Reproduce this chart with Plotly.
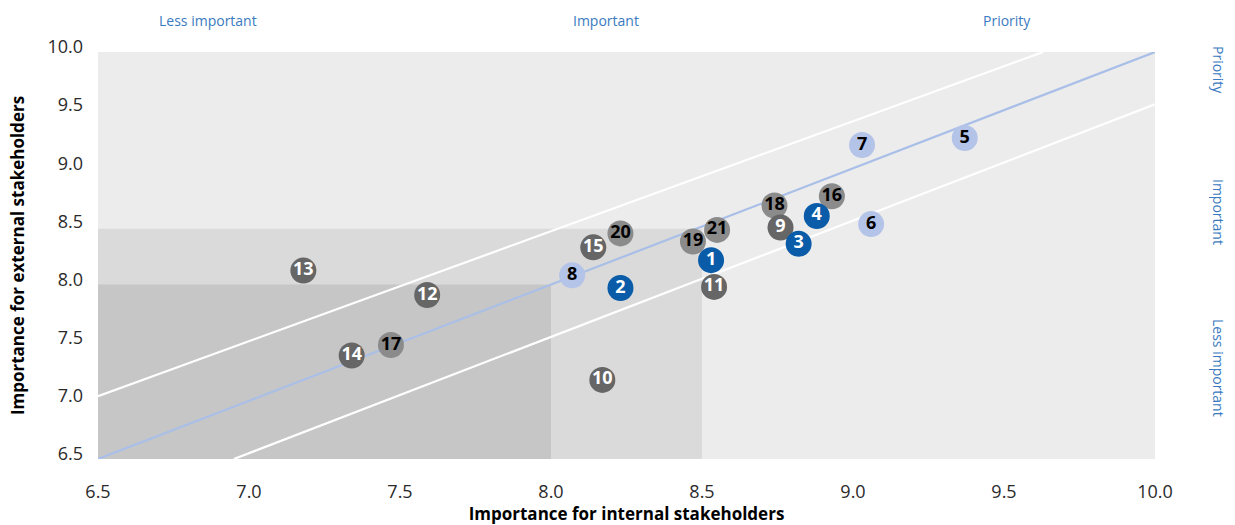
import plotly.graph_objects as go

# Materiality topics: id, importance for internal / external stakeholders
topic_ids = [1, 2, 3, 4, 5, 6, 7, 8, 9, 10, 11, 12, 13, 14, 15, 16, 17, 18, 19, 20, 21]
internal = [8.53, 8.23, 8.82, 8.88, 9.37, 9.06, 9.03, 8.07, 8.76, 8.17, 8.54,
            7.59, 7.18, 7.34, 8.14, 8.93, 7.47, 8.74, 8.47, 8.23, 8.55]
external = [8.21, 7.97, 8.35, 8.59, 9.26, 8.52, 9.20, 8.08, 8.49, 7.18, 7.98,
            7.91, 8.12, 7.39, 8.32, 8.76, 7.48, 8.68, 8.37, 8.44, 8.47]
# topic group: "blue", "lightblue", "dark", "mid"
group = ["blue", "blue", "blue", "blue", "lightblue", "lightblue", "lightblue",
         "lightblue", "dark", "dark", "dark", "dark", "dark", "dark", "dark",
         "mid", "mid", "mid", "mid", "mid", "mid"]

# Reference lines
diag_x = [6.5, 10.0]
diag_y = [6.5, 10.0]
upper_x = [6.5, 9.63]
upper_y = [7.04, 10.0]
lower_x = [6.95, 10.0]
lower_y = [6.5, 9.55]

# Zone boundaries
zone_inner = 8.0
zone_mid = 8.48
axis_min, axis_max = 6.5, 10.0

tick_vals = [6.5, 7.0, 7.5, 8.0, 8.5, 9.0, 9.5, 10.0]
tick_text = ["6.5", "7.0", "7.5", "8.0", "8.5", "9.0", "9.5", "10.0"]

styles = {
    "mid": ("#8b8b8b", "#000000"),
    "dark": ("#666666", "#ffffff"),
    "lightblue": ("#b4c4e8", "#000000"),
    "blue": ("#0a5ca8", "#ffffff"),
}

FONT = "Open Sans"
LABEL_BLUE = "#3a7bbf"

fig = go.Figure()

# zone backgrounds
fig.add_shape(type="rect", x0=axis_min, x1=8.5, y0=axis_min, y1=zone_mid,
              fillcolor="#dadada", line_width=0, layer="below")
fig.add_shape(type="rect", x0=axis_min, x1=zone_inner, y0=axis_min, y1=zone_inner,
              fillcolor="#c6c6c6", line_width=0, layer="below")

line_style = dict(mode="lines", hoverinfo="skip", showlegend=False)
fig.add_trace(go.Scatter(x=upper_x, y=upper_y, line=dict(color="white", width=2.2), **line_style))
fig.add_trace(go.Scatter(x=lower_x, y=lower_y, line=dict(color="white", width=2.2), **line_style))
fig.add_trace(go.Scatter(x=diag_x, y=diag_y, line=dict(color="#a9bfe8", width=2.2), **line_style))

for g in ["mid", "dark", "lightblue", "blue"]:
    idx = [i for i, v in enumerate(group) if v == g]
    fill, txt = styles[g]
    fig.add_trace(go.Scatter(
        x=[internal[i] for i in idx],
        y=[external[i] for i in idx],
        text=[str(topic_ids[i]) for i in idx],
        mode="markers+text",
        marker=dict(size=26, color=fill, line_width=0),
        textposition="middle center",
        textfont=dict(family=FONT, size=18, color=txt, weight="bold"),
        showlegend=False,
        cliponaxis=False,
    ))

axis_common = dict(range=[axis_min, axis_max], tickvals=tick_vals, ticktext=tick_text,
                   showgrid=False, zeroline=False, showline=False, ticks="",
                   automargin=False,
                   tickfont=dict(family=FONT, size=18, color="#2a2a2a"))

fig.update_layout(
    width=1235, height=525,
    margin=dict(l=98, r=80, t=52, b=66),
    paper_bgcolor="white",
    plot_bgcolor="#ececec",
    font=dict(family=FONT),
    xaxis=dict(**axis_common, ticklabelstandoff=20,
               title=dict(text="<b>Importance for internal stakeholders</b>",
                          font=dict(family=FONT, size=17, color="#000000"), standoff=0)),
    yaxis=dict(**axis_common, ticklabelstandoff=14, ticklabelshift=-5,
               title=dict(text="<b>Importance for external stakeholders</b>",
                          font=dict(family=FONT, size=17, color="#000000"), standoff=18)),
)

# zone labels along the top
for label, px in [("Less important", 208), ("Important", 606), ("Priority", 1007)]:
    fig.add_annotation(x=(px - 98) / 1057, y=1, xref="paper", yref="paper",
                       xanchor="center", yanchor="middle",
                       yshift=32, text=label, showarrow=False,
                       font=dict(family=FONT, size=14, color=LABEL_BLUE))

# zone labels along the right side
for label, py in [("Priority", 70), ("Important", 212), ("Less important", 368)]:
    fig.add_annotation(x=1, y=(459 - py) / 407, xref="paper", yref="paper",
                       xanchor="center", yanchor="middle",
                       xshift=64, text=label, textangle=90, showarrow=False,
                       font=dict(family=FONT, size=14, color=LABEL_BLUE))

fig.write_html("out.html")
